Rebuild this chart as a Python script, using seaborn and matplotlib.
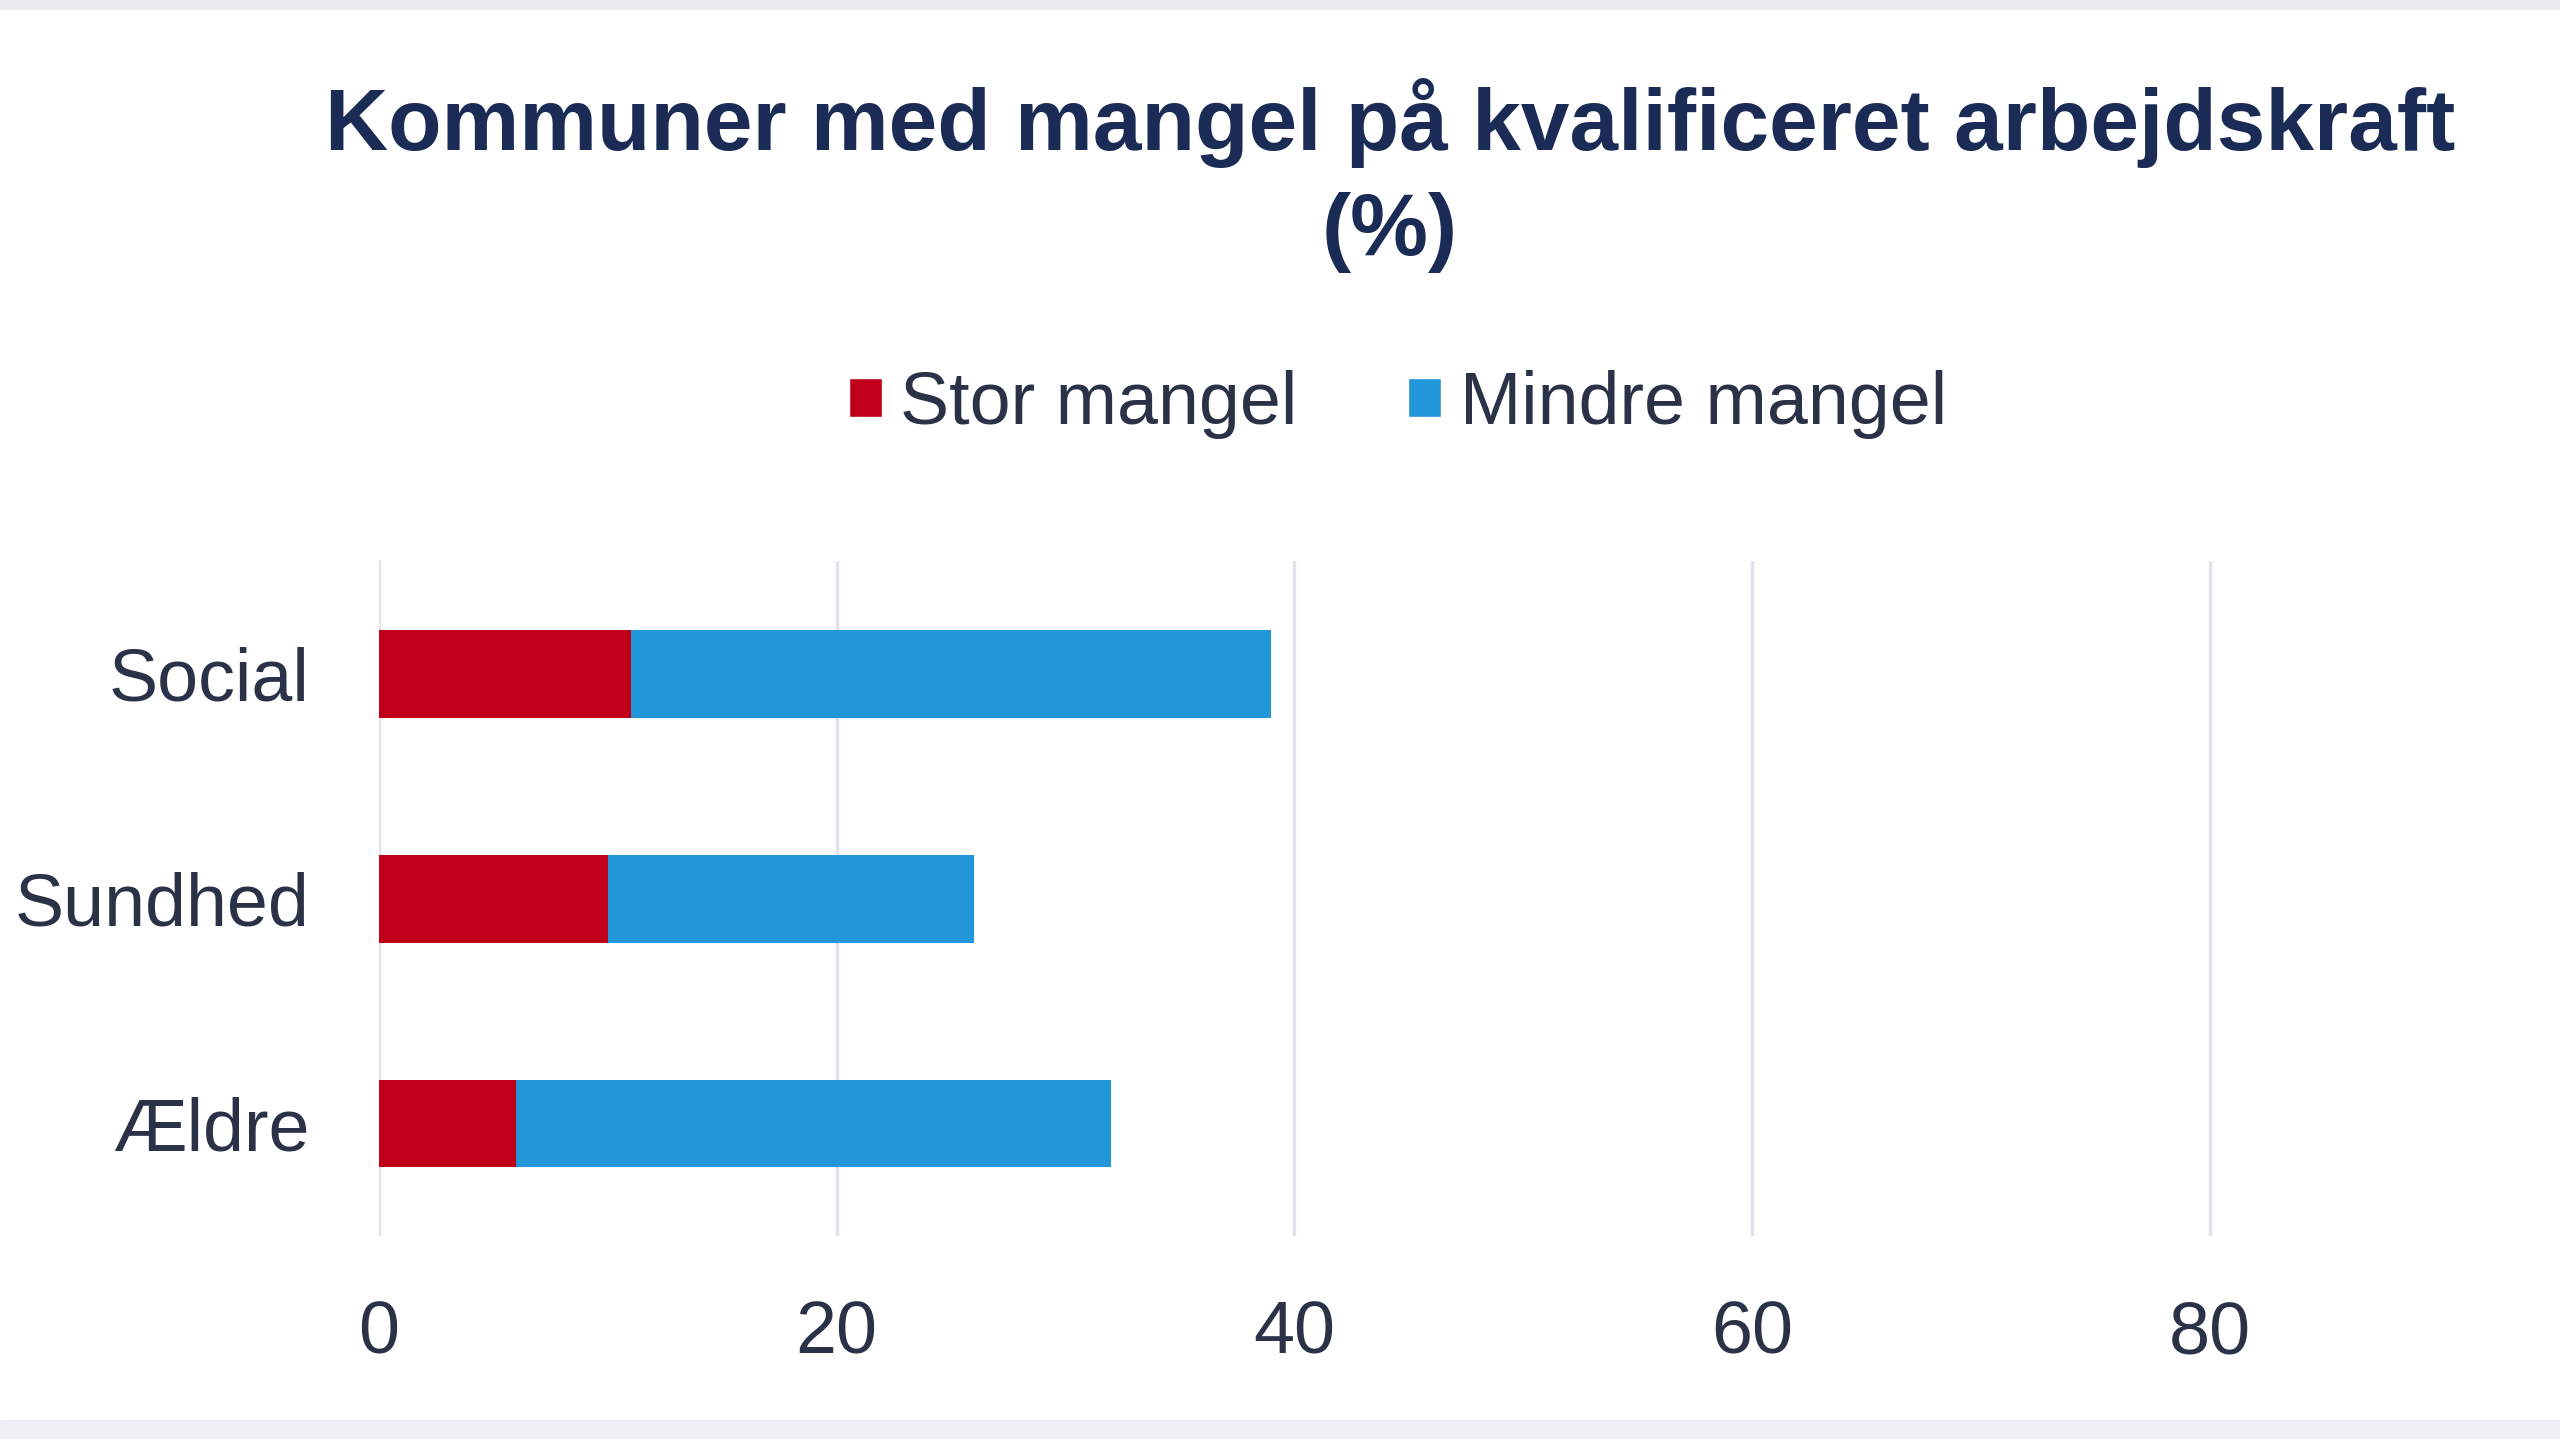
import numpy as np
import pandas as pd
import matplotlib
matplotlib.use('Agg')
import matplotlib.pyplot as plt
from matplotlib.patches import Patch, Rectangle
import seaborn as sns

# Data
categories = ['Social', 'Sundhed', 'Ældre']
stor_mangel = [11, 10, 6]
mindre_mangel = [28, 16, 26]
x_ticks = [0, 20, 40, 60, 80]

red = '#c00018'
blue = '#2196d9'
text_col = '#2b3247'
title_col = '#1a2b55'
grid_col = '#e2e3ea'

sns.set_theme(style='white')
plt.rcParams['font.family'] = ['Liberation Sans', 'DejaVu Sans']

df = pd.DataFrame({
    'Kategori': categories,
    'Stor mangel': stor_mangel,
    'Mindre mangel': mindre_mangel,
})
df['Total'] = df['Stor mangel'] + df['Mindre mangel']

fig = plt.figure(figsize=(25.6, 14.39), dpi=100, facecolor='white')
ax = fig.add_axes([0.148, 0.141, 0.852, 0.469])

# Stacked bars: total in blue first, then the red part on top
sns.barplot(data=df, x='Total', y='Kategori', orient='h', color=blue,
            width=0.39, saturation=1, linewidth=0, ax=ax)
sns.barplot(data=df, x='Stor mangel', y='Kategori', orient='h', color=red,
            width=0.39, saturation=1, linewidth=0, ax=ax)

ax.set_xlim(0, 95.3)
ax.set_ylim(2.5, -0.5)
ax.set_xticks(x_ticks)
ax.set_xlabel('')
ax.set_ylabel('')
for s in ax.spines.values():
    s.set_visible(False)
ax.grid(axis='x', color=grid_col, linewidth=2.5)
ax.grid(axis='y', visible=False)
ax.set_axisbelow(True)
ax.tick_params(axis='x', length=0, pad=46, labelsize=53, labelcolor=text_col)
ax.tick_params(axis='y', length=0, pad=50, labelsize=53, labelcolor=text_col)

fig.text(0.543, 0.878, 'Kommuner med mangel på kvalificeret arbejdskraft\n(%)',
         ha='center', va='center', fontsize=63, fontweight='bold',
         color=title_col, linespacing=1.38)

handles = [Patch(facecolor=red, label='Stor mangel'),
           Patch(facecolor=blue, label='Mindre mangel')]
fig.legend(handles=handles, loc='center', bbox_to_anchor=(0.546, 0.719),
           ncol=2, frameon=False, fontsize=53, labelcolor=text_col,
           handlelength=0.45, handleheight=0.45, handletextpad=0.25,
           columnspacing=1.5)

# Light border bands of the original screenshot
fig.patches.append(Rectangle((0, 0.994), 1, 0.006, transform=fig.transFigure,
                             color='#ebebf0', zorder=0))
fig.patches.append(Rectangle((0, 0), 1, 0.013, transform=fig.transFigure,
                             color='#eeeef3', zorder=0))

fig.savefig('out.png', dpi=100, facecolor='white')
plt.close()
